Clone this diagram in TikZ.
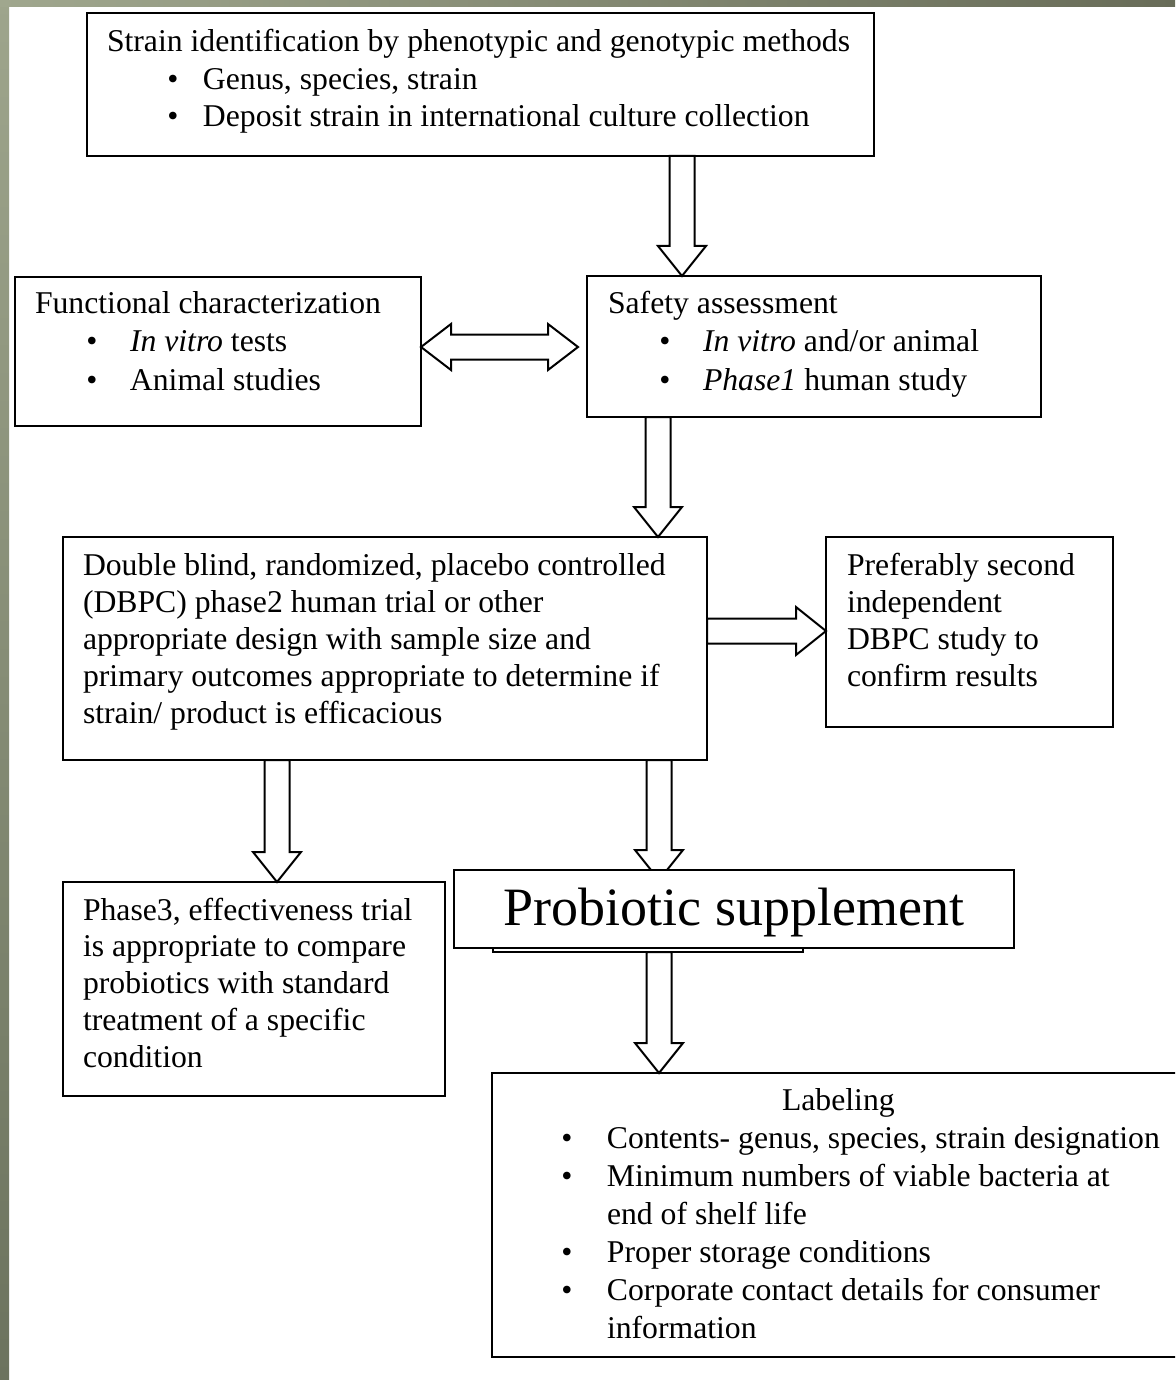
\documentclass[tikz,border=0pt]{standalone}
\usepackage{fontspec}
\setmainfont{Liberation Serif}
\usetikzlibrary{calc}
\definecolor{stripA}{HTML}{A0A78E}
\definecolor{stripB}{HTML}{9EA58C}
\definecolor{stripC}{HTML}{6C735E}
\definecolor{stripD}{HTML}{686C58}
\tikzset{
  box/.style={draw=black, line width=2pt, fill=white, inner sep=0pt, outer sep=0pt},
  blk/.style={draw=black, line width=2pt, fill=white, line join=miter},
  txt/.style={anchor=base west, inner sep=0pt, outer sep=0pt, font=\fontsize{31.7}{37.5}\selectfont},
  big/.style={font=\fontsize{54}{60}\selectfont, text height=38pt, text depth=6pt}
}
\newcommand\bitem[3]{\hbox{\hbox to #2pt{\hskip #1pt\hbox to 0pt{\hss\textbullet\hss}\hss}#3}}
\newcommand\blkarrow[2]{%
  \path ($(#2)!30pt!(#1)$) coordinate (hb);
  \draw[blk] ($(#1)!12.5pt!90:(#2)$) -- ($(hb)!12.5pt!90:(#2)$) -- ($(hb)!24pt!90:(#2)$) -- (#2)
    -- ($(hb)!24pt!-90:(#2)$) -- ($(hb)!12.5pt!-90:(#2)$) -- ($(#1)!12.5pt!-90:(#2)$) -- cycle;}
\newcommand\dblarrow[2]{%
  \path ($(#1)!30pt!(#2)$) coordinate (hl) ($(#2)!30pt!(#1)$) coordinate (hr);
  \draw[blk] (#1) -- ($(hl)!23pt!90:(#2)$) -- ($(hl)!12.5pt!90:(#2)$) -- ($(hr)!12.5pt!-90:(#1)$)
    -- ($(hr)!23pt!-90:(#1)$) -- (#2) -- ($(hr)!23pt!90:(#1)$) -- ($(hr)!12.5pt!90:(#1)$)
    -- ($(hl)!12.5pt!-90:(#2)$) -- ($(hl)!23pt!-90:(#2)$) -- cycle;}
\begin{document}
\begin{tikzpicture}[x=1pt,y=-1pt]
\useasboundingbox (0,0) rectangle (1175,1380);
\fill[white] (0,0) rectangle (1175,1380);
\shade[top color=stripB, middle color=stripA, bottom color=stripC] (0,0) rectangle (9,1380);
\shade[left color=stripA, right color=stripD] (0,0) rectangle (1175,7);

% boxes
\node[box, minimum width=787pt, minimum height=143pt] (b1) at (480.5,84.5) {};
\node[box, minimum width=406pt, minimum height=149pt] (b2) at (218,351.5) {};
\node[box, minimum width=454pt, minimum height=141pt] (b3) at (814,346.5) {};
\node[box, minimum width=644pt, minimum height=223pt] (b4) at (385,648.5) {};
\node[box, minimum width=287pt, minimum height=190pt] (b5) at (969.5,632) {};
\node[box, minimum width=382pt, minimum height=214pt] (b6) at (254,989) {};
\node[box, minimum width=310pt, minimum height=72pt] (b7) at (648,916) {};
\begin{scope}
\clip (0,0) rectangle (1175,1380);
\node[box, minimum width=686pt, minimum height=284pt] (b9) at (835,1215) {};
\end{scope}

% texts
\node[txt] (t1) at (107,52) {\vtop{\baselineskip=37.5pt
  \hbox{Strain identification by phenotypic and genotypic methods}
  \bitem{66}{96}{Genus, species, strain}
  \bitem{66}{96}{Deposit strain in international culture collection}}};
\node[txt] (t2) at (35,313) {\vtop{\baselineskip=38.5pt
  \hbox{Functional characterization}
  \bitem{57}{95}{\textit{In vitro} tests}
  \bitem{57}{95}{Animal studies}}};
\node[txt] (t3) at (608,313) {\vtop{\baselineskip=38.5pt
  \hbox{Safety assessment}
  \bitem{57}{95}{\textit{In vitro} and/or animal}
  \bitem{57}{95}{\textit{Phase1} human study}}};
\node[txt] (t4) at (83,575) {\vtop{\baselineskip=37pt
  \hbox{Double blind, randomized, placebo controlled}
  \hbox{(DBPC) phase2 human trial or other}
  \hbox{appropriate design with sample size and}
  \hbox{primary outcomes appropriate to determine if}
  \hbox{strain/ product is efficacious}}};
\node[txt] (t5) at (847,575) {\vtop{\baselineskip=37pt
  \hbox{Preferably second}
  \hbox{independent}
  \hbox{DBPC study to}
  \hbox{confirm results}}};
\node[txt] (t6) at (83,920) {\vtop{\baselineskip=36.75pt
  \hbox{Phase3, effectiveness trial}
  \hbox{is appropriate to compare}
  \hbox{probiotics with standard}
  \hbox{treatment of a specific}
  \hbox{condition}}};
\node[txt] (t9) at (557,1110) {\vtop{\baselineskip=38pt
  \hbox{\hskip225pt Labeling}
  \bitem{10}{50}{Contents- genus, species, strain designation}
  \bitem{10}{50}{Minimum numbers of viable bacteria at}
  \hbox{\hskip50pt end of shelf life}
  \bitem{10}{50}{Proper storage conditions}
  \bitem{10}{50}{Corporate contact details for consumer}
  \hbox{\hskip50pt information}}};

% arrow end points
\coordinate (a1s) at ([xshift=201.5pt]b1.south);
\coordinate (a1e) at ([xshift=-132pt]b3.north);
\coordinate (a2l) at ([yshift=4.5pt]b2.east);
\coordinate (a2r) at ([xshift=-9pt,yshift=-0.5pt]b3.west);
\coordinate (a3s) at ([xshift=-156pt]b3.south);
\coordinate (a3e) at ([xshift=273pt]b4.north);
\coordinate (a4s) at ([yshift=17.5pt]b4.east);
\coordinate (a4e) at ([yshift=1pt]b5.west);
\coordinate (a5s) at ([xshift=-108pt]b4.south);
\coordinate (a5e) at ([xshift=23pt]b6.north);
\coordinate (a6s) at ([xshift=274pt]b4.south);
\coordinate (a6e) at ([xshift=11pt]b7.north);
\coordinate (a7s) at ([xshift=11pt]b7.south);
\coordinate (a7e) at ([xshift=-176pt]b9.north);

\blkarrow{a1s}{a1e}
\dblarrow{a2l}{a2r}
\blkarrow{a3s}{a3e}
\blkarrow{a4s}{a4e}
\blkarrow{a5s}{a5e}
\blkarrow{a6s}{a6e}
\blkarrow{a7s}{a7e}

% probiotic supplement box on top
\node[box, big, minimum width=560pt, minimum height=78pt] (b8) at (734,909) {Probiotic supplement};
\end{tikzpicture}
\end{document}
